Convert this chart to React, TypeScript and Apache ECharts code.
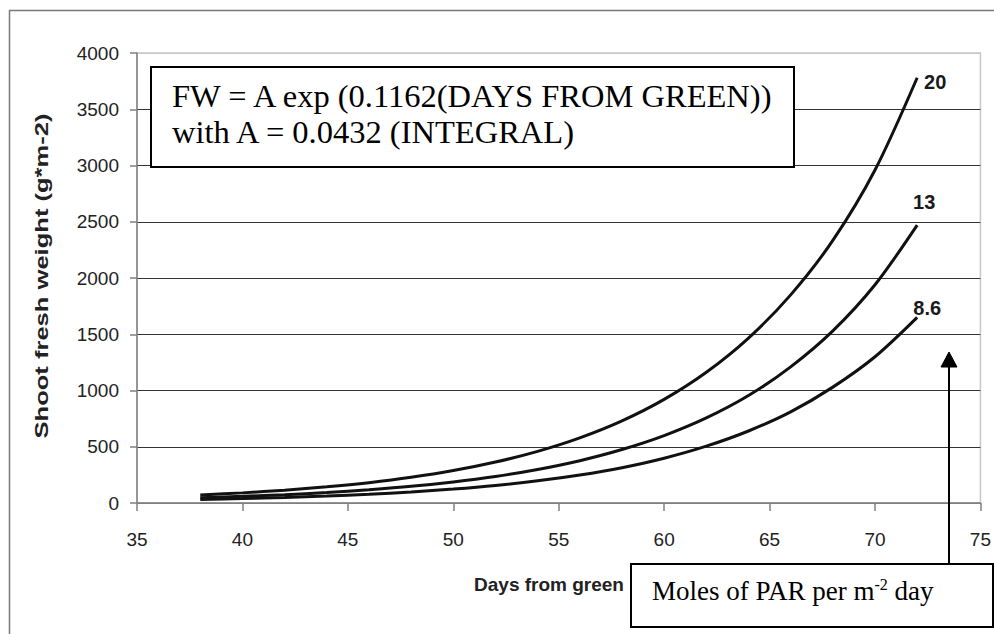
import React, { useEffect, useRef } from "react";
import * as echarts from "echarts";

// Days from green (x) and shoot fresh weight (g*m-2) for each PAR integral
const days = [38, 40, 42, 44, 46, 48, 50, 52, 54, 56, 58, 60, 62, 64, 66, 68, 70, 72];
const fw20 = [71, 90, 114, 144, 181, 228, 288, 364, 459, 579, 730, 921, 1162, 1466, 1850, 2334, 2960, 3780];
const fw13 = [46, 59, 74, 93, 118, 148, 187, 236, 298, 376, 475, 599, 756, 955, 1210, 1530, 1940, 2470];
const fw86 = [31, 39, 49, 62, 78, 98, 124, 156, 197, 249, 314, 398, 505, 640, 810, 1030, 1300, 1650];
const curveNames = ["20", "13", "8.6"];

const xMin = 35;
const xMax = 75;
const xStep = 5;
const yMin = 0;
const yMax = 4000;
const yStep = 500;

const yAxisTitle = "Shoot fresh weight (g*m-2)";
const xAxisTitle = "Days from green";
const eqLine1 = "FW = A exp (0.1162(DAYS FROM GREEN))";
const eqLine2 = "with A = 0.0432 (INTEGRAL)";
const parMain = "Moles of PAR per m";
const parSup = "-2";
const parTail = " day";

const SANS = '"Liberation Sans", Arial, sans-serif';
const SERIF = '"Liberation Serif", "Times New Roman", serif';

export default function App() {
  const ref = useRef<HTMLDivElement>(null);

  useEffect(() => {
    if (!ref.current) return;
    const chart = echarts.init(ref.current, undefined, { renderer: "svg" });

    const curves = [fw20, fw13, fw86];
    const labelOffsets: [number, number][] = [
      [18, 4],
      [7, -23],
      [10, -9],
    ];

    const series = curves.map((vals, k) => ({
      type: "line" as const,
      name: curveNames[k],
      data: days.map((d, i) => [d, vals[i]]),
      showSymbol: false,
      symbol: "none",
      smooth: 0.3,
      lineStyle: { color: "#111", width: 3 },
      z: 5,
      markPoint: {
        symbol: "circle",
        symbolSize: 0,
        silent: true,
        data: [
          {
            coord: [days[days.length - 1], vals[vals.length - 1]],
            label: {
              show: true,
              position: "inside",
              formatter: curveNames[k],
              offset: labelOffsets[k],
              color: "#1a1a1a",
              fontSize: 20,
              fontWeight: "bold",
              fontFamily: SANS,
            },
          },
        ],
      },
    }));

    const splitColors: string[] = [];
    for (let v = yMin; v <= yMax; v += yStep) {
      splitColors.push(v === yMax ? "#c8c8c8" : v === yMin ? "#808080" : "#333333");
    }

    chart.setOption({
      animation: false,
      backgroundColor: "#ffffff",
      grid: {
        left: 137,
        top: 53,
        right: 9,
        bottom: 131,
        show: true,
        borderColor: "#c8c8c8",
        borderWidth: 1.5,
        backgroundColor: "transparent",
      },
      xAxis: {
        type: "value",
        min: xMin,
        max: xMax,
        interval: xStep,
        axisLine: { show: true, lineStyle: { color: "#808080", width: 1.5 } },
        axisTick: { show: true, length: 8, lineStyle: { color: "#808080", width: 1.5 } },
        axisLabel: { color: "#222", fontSize: 19, fontFamily: SANS, margin: 27 },
        splitLine: { show: false },
      },
      yAxis: {
        type: "value",
        min: yMin,
        max: yMax,
        interval: yStep,
        axisLine: { show: true, lineStyle: { color: "#808080", width: 1.5 } },
        axisTick: { show: true, length: 7, lineStyle: { color: "#808080", width: 1.5 } },
        axisLabel: {
          color: "#222",
          fontSize: 19,
          fontFamily: SANS,
          margin: 18,
          formatter: (v: number) => String(v),
        },
        splitLine: { show: true, lineStyle: { color: splitColors, width: 1.2 } },
      },
      series,
      graphic: [
        {
          type: "rect",
          shape: { x: 9.5, y: 10.5, width: 1000, height: 700 },
          style: { fill: "none", stroke: "#7a7a7a", lineWidth: 1.5 },
          silent: true,
          z: 1,
        },
        {
          type: "text",
          x: 42,
          y: 276,
          rotation: Math.PI / 2,
          scaleX: 1.42,
          style: {
            text: yAxisTitle,
            fontSize: 18,
            fontWeight: "bold",
            fontFamily: SANS,
            fill: "#222",
            align: "center",
            verticalAlign: "middle",
          },
          z: 10,
        },
        {
          type: "text",
          x: 549,
          y: 584,
          style: {
            text: xAxisTitle,
            fontSize: 19,
            fontWeight: "bold",
            fontFamily: SANS,
            fill: "#222",
            align: "center",
            verticalAlign: "middle",
          },
          z: 10,
        },
        {
          type: "rect",
          shape: { x: 151, y: 67, width: 643, height: 100 },
          style: { fill: "#fff", stroke: "#000", lineWidth: 2 },
          z: 20,
        },
        {
          type: "text",
          x: 172,
          y: 96,
          style: {
            text: eqLine1,
            fontSize: 32.5,
            fontFamily: SERIF,
            fill: "#000",
            align: "left",
            verticalAlign: "middle",
          },
          z: 21,
        },
        {
          type: "text",
          x: 172,
          y: 132,
          style: {
            text: eqLine2,
            fontSize: 32.5,
            fontFamily: SERIF,
            fill: "#000",
            align: "left",
            verticalAlign: "middle",
          },
          z: 21,
        },
        {
          type: "rect",
          shape: { x: 631, y: 564, width: 362, height: 63 },
          style: { fill: "#fff", stroke: "#000", lineWidth: 2 },
          z: 20,
        },
        {
          type: "text",
          x: 652,
          y: 591,
          style: {
            text: "{a|" + parMain + "}{s|" + parSup + "}{a|" + parTail + "}",
            fontFamily: SERIF,
            fill: "#000",
            align: "left",
            verticalAlign: "middle",
            rich: {
              a: { fontSize: 27, fontFamily: SERIF, lineHeight: 30, fill: "#000" },
              s: { fontSize: 16, fontFamily: SERIF, lineHeight: 16, verticalAlign: "top", fill: "#000" },
            },
          },
          z: 21,
        },
        {
          type: "line",
          shape: { x1: 949, y1: 564, x2: 949, y2: 364 },
          style: { stroke: "#000", lineWidth: 2 },
          z: 21,
        },
        {
          type: "polygon",
          shape: { points: [[949, 352], [941, 367], [957, 367]] },
          style: { fill: "#000", stroke: "#000", lineWidth: 1 },
          z: 21,
        },
      ],
    });

    return () => chart.dispose();
  }, []);

  return (
    <div
      ref={ref}
      style={{ position: "fixed", left: 0, top: 0, width: 994, height: 634, background: "#fff" }}
    />
  );
}
